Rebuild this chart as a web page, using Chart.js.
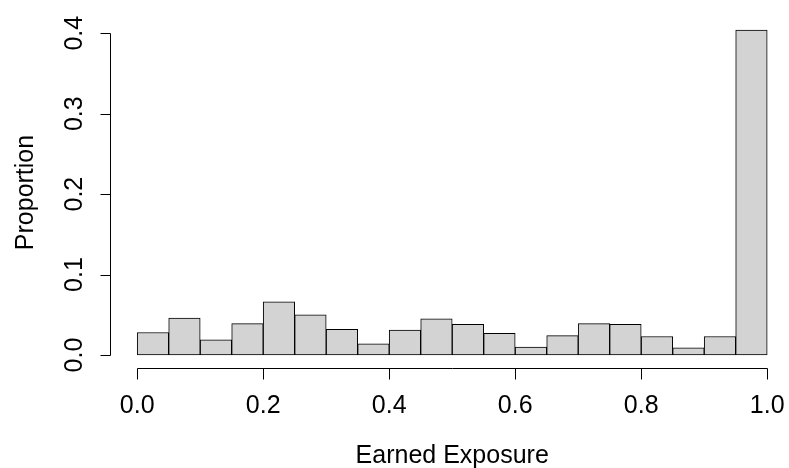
<!DOCTYPE html>
<html>
<head>
<meta charset="utf-8">
<script src="https://cdn.jsdelivr.net/npm/chart.js@4/dist/chart.umd.min.js"></script>
<style>
  html, body { margin: 0; padding: 0; background: #ffffff; }
  #wrap { width: 789px; height: 468px; }
</style>
</head>
<body>
<div id="wrap"><canvas id="c" width="789" height="468"></canvas></div>
<script>
// Histogram bins (centres of 0.05-wide bins) and proportions
const binCenters = [0.025, 0.075, 0.125, 0.175, 0.225, 0.275, 0.325, 0.375, 0.425, 0.475,
                    0.525, 0.575, 0.625, 0.675, 0.725, 0.775, 0.825, 0.875, 0.925, 0.975];
const proportions = [0.028, 0.046, 0.019, 0.039, 0.066, 0.050, 0.032, 0.014, 0.031, 0.045,
                     0.038, 0.027, 0.010, 0.024, 0.039, 0.038, 0.023, 0.009, 0.023, 0.404];
const xTicks = [0.0, 0.2, 0.4, 0.6, 0.8, 1.0];
const xTickLabels = ["0.0", "0.2", "0.4", "0.6", "0.8", "1.0"];
const yTicks = [0.0, 0.1, 0.2, 0.3, 0.4];
const yTickLabels = ["0.0", "0.1", "0.2", "0.3", "0.4"];
const xTitle = "Earned Exposure";
const yTitle = "Proportion";

const FONT = '25px "Liberation Sans", Arial, Helvetica, sans-serif';

const rAxes = {
  id: 'rAxes',
  afterDraw(chart) {
    const ctx = chart.ctx;
    const xs = chart.scales.x, ys = chart.scales.y;
    const area = chart.chartArea;
    ctx.save();
    ctx.strokeStyle = '#000';
    ctx.fillStyle = '#000';
    ctx.lineWidth = 1;
    ctx.font = FONT;

    // y axis
    const yAxisX = Math.round(area.left) - 1.5;
    const y0 = ys.getPixelForValue(yTicks[0]);
    const y1 = ys.getPixelForValue(yTicks[yTicks.length - 1]);
    ctx.beginPath();
    ctx.moveTo(yAxisX, Math.round(y0) + 0.5);
    ctx.lineTo(yAxisX, Math.round(y1) + 0.5);
    yTicks.forEach(v => {
      const p = Math.round(ys.getPixelForValue(v)) + 0.5;
      ctx.moveTo(yAxisX, p);
      ctx.lineTo(yAxisX - 10, p);
    });
    ctx.stroke();
    yTicks.forEach((v, i) => {
      const p = ys.getPixelForValue(v);
      ctx.save();
      ctx.translate(82, p);
      ctx.rotate(-Math.PI / 2);
      ctx.textAlign = 'center';
      ctx.textBaseline = 'alphabetic';
      ctx.fillText(yTickLabels[i], 0, 0);
      ctx.restore();
    });
    // y title, centred on the plot region
    ctx.save();
    ctx.translate(33, (area.top + area.bottom) / 2);
    ctx.rotate(-Math.PI / 2);
    ctx.textAlign = 'center';
    ctx.textBaseline = 'alphabetic';
    ctx.fillText(yTitle, 0, 0);
    ctx.restore();

    // x axis
    const xAxisY = Math.round(area.bottom) + 0.5;
    const x0 = xs.getPixelForValue(xTicks[0]);
    const x1 = xs.getPixelForValue(xTicks[xTicks.length - 1]);
    ctx.beginPath();
    ctx.moveTo(Math.round(x0) + 0.5, xAxisY);
    ctx.lineTo(Math.round(x1) + 0.5, xAxisY);
    xTicks.forEach(v => {
      const p = Math.round(xs.getPixelForValue(v)) + 0.5;
      ctx.moveTo(p, xAxisY);
      ctx.lineTo(p, xAxisY + 11);
    });
    ctx.stroke();
    ctx.textAlign = 'center';
    ctx.textBaseline = 'alphabetic';
    xTicks.forEach((v, i) => {
      ctx.fillText(xTickLabels[i], xs.getPixelForValue(v), 413);
    });
    // x title
    const mid = (xs.getPixelForValue(-0.04) + xs.getPixelForValue(1.04)) / 2;
    ctx.fillText(xTitle, mid, 463);
    ctx.restore();
  }
};

new Chart(document.getElementById('c'), {
  type: 'bar',
  data: {
    datasets: [{
      data: binCenters.map((c, i) => ({ x: c, y: proportions[i] })),
      backgroundColor: '#d3d3d3',
      borderColor: '#000000',
      borderWidth: 1,
      borderSkipped: false,
      barPercentage: 1.0,
      categoryPercentage: 1.0
    }]
  },
  options: {
    responsive: false,
    animation: false,
    events: [],
    layout: { padding: { left: 112, right: 0, top: 17, bottom: 100 } },
    plugins: { legend: { display: false }, tooltip: { enabled: false } },
    scales: {
      x: { type: 'linear', min: -0.04, max: 1.0346, display: false, offset: false },
      y: { type: 'linear', min: -0.01616, max: 0.42016, display: false }
    }
  },
  plugins: [rAxes]
});
</script>
</body>
</html>
